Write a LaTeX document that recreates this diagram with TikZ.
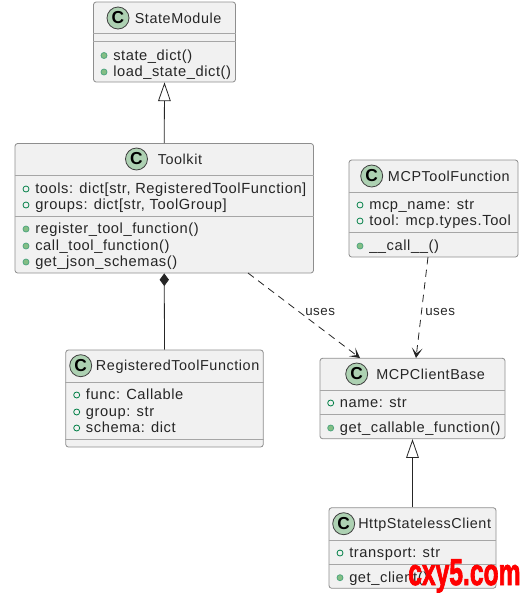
\documentclass[tikz,border=0pt]{standalone}
\usepackage{fontspec}
\setmainfont[LetterSpace=4.0]{Liberation Sans}
\newfontfamily\markfont{Liberation Sans}
\newfontfamily\stampfont[FakeBold=2.5]{Liberation Sans Bold}
\usetikzlibrary{arrows.meta,calc}
\definecolor{boxfill}{HTML}{F1F1F1}
\definecolor{boxgray}{HTML}{8E8E8E}
\definecolor{sepgray}{HTML}{A6A6A6}
\definecolor{spotfill}{HTML}{ADD1B2}
\definecolor{dotgreen}{HTML}{038048}
\definecolor{dotfill}{HTML}{84BE84}
\tikzset{
    classbox/.style 2 args={draw=boxgray, fill=boxfill, line width=0.6pt, rounded corners=2pt, inner sep=0pt, minimum width=#1*0.75pt, minimum height=#2*0.75pt},
    sepline/.style={draw=sepgray, line width=0.7pt},
    spot/.style={circle, draw=black!75, fill=spotfill, line width=0.6pt, inner sep=0pt, minimum size=16.5pt, font=\markfont\fontsize{13}{13}\selectfont\bfseries},
    title/.style={anchor=base west, inner sep=0pt, font=\fontsize{10.8}{12}\selectfont, text=black!85},
    member/.style={anchor=base west, inner sep=0pt, font=\fontsize{11}{12}\selectfont, text=black!85},
    link/.style={line width=0.6pt, black!85},
    uses/.style={anchor=base west, inner sep=0pt, font=\fontsize{10}{12}\selectfont, text=black!85},
}
\begin{document}
\begin{tikzpicture}[x=0.75pt,y=-0.75pt]
        \useasboundingbox(0,0)rectangle(527,593);
        % classes
        \node[classbox={142}{80}](statemodule)at(164.5,42){};
        \node[classbox={298.5}{129.5}](toolkit)at(164.25,208.25){};
        \node[classbox={169}{97}](mcptool)at(433.5,208.5){};
        \node[classbox={197.5}{97}](registered)at(164.5,398.5){};
        \node[classbox={185}{80.5}](clientbase)at(412.5,398.5){};
        \node[classbox={167}{80.5}](httpclient)at(412.5,548){};
        % compartments
        \foreach \b/\y in {statemodule/33,statemodule/41.5,toolkit/175,toolkit/216,mcptool/192,mcptool/232,registered/382,registered/439,clientbase/390.7,clientbase/414.7,httpclient/540,httpclient/564}
        {
            \path[sepline](\b.west|-0,\y)to(\b.east|-0,\y);
        }
        % headers
        \foreach \n/\cx/\cy/\tx/\t in {state/118/18/134.5/StateModule,tk/136.5/159/157.5/Toolkit,mtf/371.7/176/387.7/MCPToolFunction,rtf/80.7/365.7/95.7/RegisteredToolFunction,mcb/356.7/374/376/MCPClientBase,hsc/343.7/523.7/358/HttpStatelessClient}
        {
            \node[spot](spot\n)at(\cx,\cy){C};
            \node[title](title\n)at(\tx,\cy+5){\t};
        }
        % attributes
        \foreach \n/\x/\y/\t in {a1/26/189/{tools: dict[str, RegisteredToolFunction]},a2/26/205/{groups: dict[str, ToolGroup]},a3/360/205/{mcp\_name: str},a4/360/221/{tool: mcp.types.Tool},a5/76.7/395/{func: Callable},a6/76.7/412/{group: str},a7/76.7/428/{schema: dict},a8/330.7/403/{name: str},a9/340/553/{transport: str}}
        {
            \path[draw=dotgreen, fill=boxfill, line width=0.6pt](\x,\y)circle(3);
            \node[member](\n)at(\x+9,\y+4.5){\t};
        }
        % methods
        \foreach \n/\x/\y/\t in {m1/104/55.5/{state\_dict()},m2/104/72/{load\_state\_dict()},m3/26/229/{register\_tool\_function()},m4/26/246/{call\_tool\_function()},m5/26/262/{get\_json\_schemas()},m6/360/246/{\_\_call\_\_()},m7/330.7/428/{get\_callable\_function()},m8/340/577.7/{get\_client()}}
        {
            \path[draw=dotgreen!70, fill=dotfill, line width=0.6pt](\x,\y)circle(3);
            \node[member](\n)at(\x+9,\y+4.5){\t};
        }
        % connectors
        \coordinate(tkfrom)at(248,273);
        \coordinate(tkto)at(360,358);
        \coordinate(mtffrom)at(428,257);
        \coordinate(mtfto)at(416,358);
        \path[draw, link, -{Triangle[open, fill=white, length=14pt, width=9.5pt]}](toolkit.north)to(statemodule.south);
        \path[draw, link, {Diamond[length=9.5pt, width=7pt]}-](toolkit.south)to(registered.north);
        \path[draw, link, -{Triangle[open, fill=white, length=14pt, width=9.5pt]}](httpclient.north)to(clientbase.south);
        \path[draw, link, dashed, dash pattern=on 5.5pt off 4pt, -{Stealth[length=7.5pt, width=8pt, inset=4pt]}](tkfrom)to(tkto);
        \path[draw, link, dashed, dash pattern=on 5.5pt off 4pt, -{Stealth[length=7.5pt, width=8pt, inset=4pt]}](mtffrom)to(mtfto);
        \node[uses](usesa)at(305,315.7){uses};
        \node[uses](usesb)at(425,315.7){uses};
        % mark
        \node[anchor=base west, inner sep=0pt, text=red, transform shape, xscale=0.84, yscale=1.27, font=\stampfont\fontsize{22}{22}\selectfont](watermark)at(408,585){cxy5.com};
    \end{tikzpicture}
\end{document}
